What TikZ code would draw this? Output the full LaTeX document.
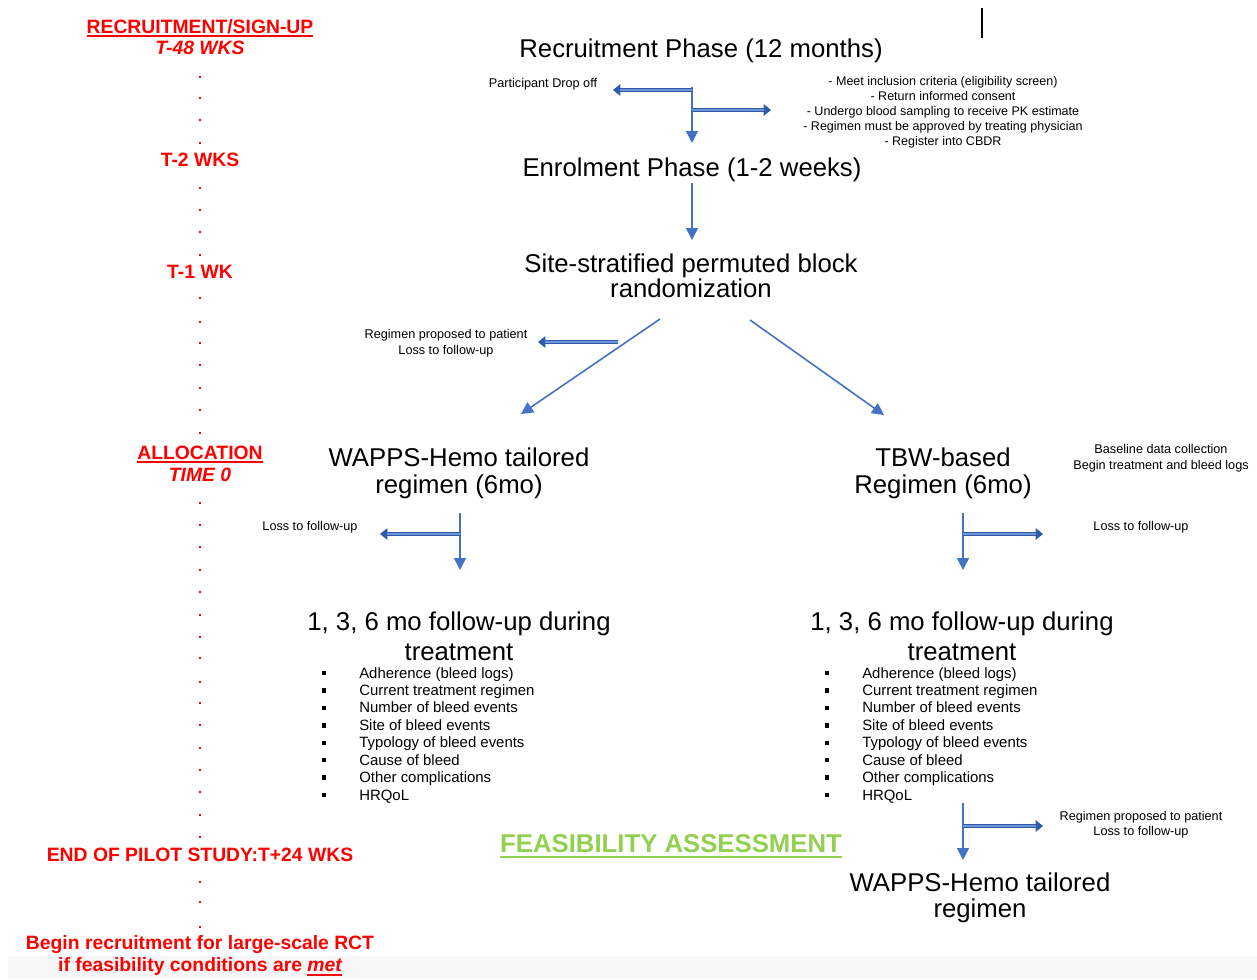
\documentclass[tikz,border=0pt]{standalone}
\usepackage{fontspec}
\setmainfont{Liberation Sans}
\usetikzlibrary{arrows.meta}
\definecolor{ared}{HTML}{FF0000}
\definecolor{agreen}{HTML}{92D050}
\definecolor{ablue}{HTML}{4472C4}
\definecolor{adark}{HTML}{2F5AA8}
\definecolor{alight}{HTML}{6F97DA}
\definecolor{band}{HTML}{F7F7F7}
\newcommand{\ulthick}[3]{\leavevmode\sbox0{#3}\rlap{\rule[-#1]{\wd0}{#2}}\usebox0}
\newcommand{\dblarr}[2]{\draw[dblo] (#1) -- (#2); \draw[dbli] (#1) -- (#2);}
\begin{document}
\begin{tikzpicture}[x=0.75pt, y=-0.75pt,
  big/.style={font=\fontsize{19.3}{20.25}\selectfont, inner sep=0pt, align=center},
  bigone/.style={big, text height=13.8pt, text depth=0pt},
  small/.style={font=\fontsize{9.5}{12}\selectfont, inner sep=0pt, align=center},
  smallone/.style={small, text height=6.8pt, text depth=0pt},
  bul/.style={font=\fontsize{11.2}{13}\selectfont, inner sep=0pt, anchor=base west},
  lab/.style={font=\fontsize{14.5}{17}\selectfont\bfseries, text=ared, inner sep=0pt, text height=10.4pt, text depth=0pt},
  arr/.style={draw=ablue, line width=1.2pt, -{Triangle[length=9pt,width=9pt]}},
  dblo/.style={draw=adark, line width=3.6pt, -{Triangle[length=5.5pt,width=8.5pt]}},
  dbli/.style={draw=alight, line width=1.3pt, shorten >=5.5pt},
  dotm/.style={fill=ared}
]
\useasboundingbox (0,0) rectangle (1257,979);
\fill[band] (8,956) rectangle (1257,979);

% ---------- left timeline ----------
\node[lab] (rs) at (200,27) {\ulthick{2.05pt}{1.1pt}{RECRUITMENT/SIGN-UP}};
\node[lab] (t48) at (200,48) {\itshape T-48 WKS};
\node[lab] (t2) at (200,160) {T-2 WKS};
\node[lab] (t1) at (200,272) {T-1 WK};
\node[lab] (alloc) at (200,453) {\ulthick{2.05pt}{1.1pt}{ALLOCATION}};
\node[lab] (t0) at (200,475) {\itshape TIME 0};
\node[lab] (endp) at (200,855) {END OF PILOT STUDY:T+24 WKS};
\node[lab] (begin) at (200,943) {Begin recruitment for large-scale RCT};
\node[lab] (iff) at (200,965) {if feasibility conditions are \ulthick{2.8pt}{1.1pt}{\itshape met}};
\foreach \y in {77,98,120,143,188,210,232,255,298,322,343,365,388,410,433,503,525,547,570,592,615,637,658,682,703,725,748,770,792,815,837,882,902,927}
  \fill[dotm] (198.7,\y-1.3) rectangle (201.3,\y+1.3);

% ---------- cursor bar ----------
\draw[line width=1.4pt] (982,8) -- (982,38);

% ---------- main flow ----------
\node[bigone] (recr) at (701,48) {Recruitment Phase (12 months)};
\node[smallone] (drop) at (543,83) {Participant Drop off};
\node[small, font=\fontsize{9.4}{11.25}\selectfont] (crit) at (943,112.3) {- Meet inclusion criteria (eligibility screen)\\- Return informed consent\\- Undergo blood sampling to receive PK estimate\\- Regimen must be approved by treating physician\\- Register into CBDR};
\node[bigone] (enrol) at (692,167) {Enrolment Phase (1-2 weeks)};
\node[big, font=\fontsize{19.3}{18.75}\selectfont] (site) at (691,275.5) {Site-stratified permuted block\\randomization};
\node[small] (regprop) at (446,343.3) {Regimen proposed to patient\\Loss to follow-up};
\node[big] (wapps) at (459,473) {WAPPS-Hemo tailored\\regimen (6mo)};
\node[big] (tbw) at (943,473) {TBW-based\\Regimen (6mo)};
\node[small] (base) at (1161,458.3) {Baseline data collection\\Begin treatment and bleed logs};
\node[smallone] (loss1) at (310,526) {Loss to follow-up};
\node[smallone] (loss2) at (1141,526) {Loss to follow-up};
\node[big, font=\fontsize{19.3}{22.5}\selectfont] (fu1) at (459,636) {1, 3, 6 mo follow-up during\\treatment};
\node[big, font=\fontsize{19.3}{22.5}\selectfont] (fu2) at (962,636) {1, 3, 6 mo follow-up during\\treatment};
\node[small, font=\fontsize{9.5}{11.25}\selectfont] (regprop2) at (1141,824.8) {Regimen proposed to patient\\Loss to follow-up};
\node[bigone, font=\fontsize{19.3}{20}\selectfont\bfseries, text=agreen] (feas) at (671,843) {\ulthick{4.35pt}{1.5pt}{FEASIBILITY ASSESSMENT}};
\node[big, font=\fontsize{19.3}{19.5}\selectfont] (wapps2) at (980,897.7) {WAPPS-Hemo tailored\\regimen};

% bullet lists
\foreach \t [count=\i from 0] in {{Adherence (bleed logs)},{Current treatment regimen},{Number of bleed events},{Site of bleed events},{Typology of bleed events},{Cause of bleed},{Other complications},{HRQoL}}{
  \pgfmathsetmacro\yy{673+17.43*\i}
  \node[bul] (bl\i) at (359,\yy+5) {\t};
  \node[bul] (br\i) at (862,\yy+5) {\t};
  \fill (321.8,\yy-2.2) rectangle (326.2,\yy+2.2);
  \fill (824.8,\yy-2.2) rectangle (829.2,\yy+2.2);
}

% ---------- connectors ----------
\coordinate (c0) at (692,87);
\coordinate (c1) at (692,143);
\draw[arr] (c0) -- (c1);
\coordinate (c2) at (692,90);
\coordinate (c3) at (613,90);
\dblarr{c2}{c3}
\coordinate (c4) at (692,110);
\coordinate (c5) at (771,110);
\dblarr{c4}{c5}

\coordinate (e0) at (692,183);
\coordinate (e1) at (692,240);
\draw[arr] (e0) -- (e1);

\coordinate (d1s) at (660,319);
\coordinate (d1e) at (521,414);
\draw[arr] (d1s) -- (d1e);
\coordinate (d2s) at (750,320);
\coordinate (d2e) at (884,415);
\draw[arr] (d2s) -- (d2e);
\coordinate (s0) at (618,342);
\coordinate (s1) at (538,342);
\dblarr{s0}{s1}

\coordinate (l0) at (460,513);
\coordinate (l1) at (460,570);
\draw[arr] (l0) -- (l1);
\coordinate (l2) at (460,534);
\coordinate (l3) at (380,534);
\dblarr{l2}{l3}

\coordinate (r0) at (963,513);
\coordinate (r1) at (963,570);
\draw[arr] (r0) -- (r1);
\coordinate (r2) at (963,534);
\coordinate (r3) at (1043,534);
\dblarr{r2}{r3}

\coordinate (b0) at (963,803);
\coordinate (b1) at (963,860);
\draw[arr] (b0) -- (b1);
\coordinate (b2) at (963,826);
\coordinate (b3) at (1043,826);
\dblarr{b2}{b3}
\end{tikzpicture}
\end{document}
